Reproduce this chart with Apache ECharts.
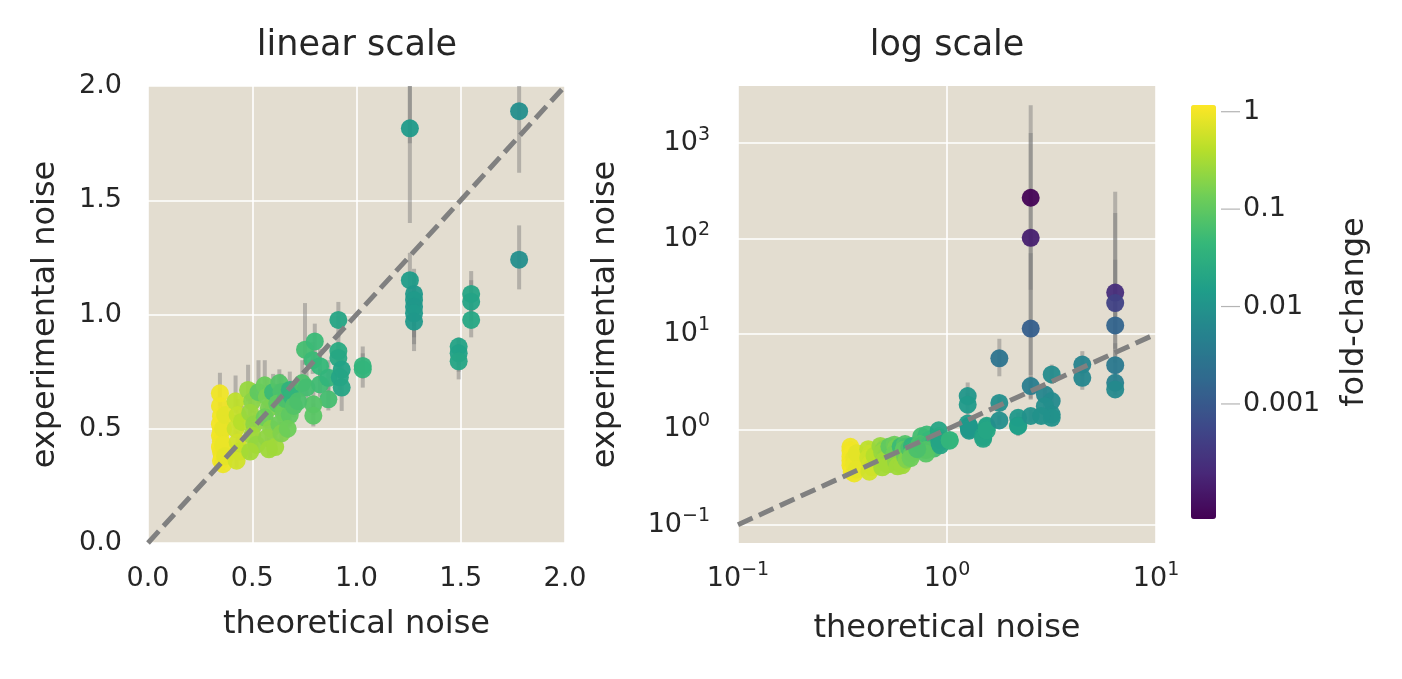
<!DOCTYPE html>
<html><head><meta charset="utf-8">
<script src="https://cdn.jsdelivr.net/npm/echarts@6/dist/echarts.min.js"></script>
<style>html,body{margin:0;padding:0;background:#fff}#c{width:1402px;height:679px}</style>
</head><body><div id="c"></div>
<script>
// ---- data ----
const theoNoise = [
 0.345,0.345,0.35,0.345,0.35,0.345,0.35,0.345,0.35,0.355,0.35,0.36,0.36,0.36,0.37,0.37,
 0.42,0.43,0.42,0.43,0.44,0.425,0.45,
 0.48,0.50,0.49,0.51,0.50,0.52,0.49,0.53,
 0.56,0.57,0.58,0.56,0.59,0.57,0.58,0.60,0.61,
 0.63,0.64,0.62,0.65,0.63,0.64,0.66,
 0.68,0.69,0.68,0.70,0.67,
 0.753,0.80,0.79,0.825,0.74,0.76,0.825,0.865,0.865,0.793,0.793,0.72,
 0.913,0.913,0.913,0.929,0.92,0.929,
 1.03,1.03,
 1.256,1.256,1.256,1.276,1.276,1.276,1.276,1.276,
 1.49,1.49,1.49,
 1.55,1.55,1.55,
 1.78,1.78,1.78,
 2.19,2.19,2.19,
 2.515,2.515,2.515,2.515,2.515,
 3.17,2.94,3.17,2.94,3.17,3.17,2.82,
 4.44,4.44,
 6.38,6.38,6.38,6.38,6.38,6.38
];
const expNoise = [
 0.655,0.60,0.555,0.52,0.49,0.47,0.445,0.42,0.40,0.38,0.36,0.345,0.50,0.43,0.56,0.38,
 0.62,0.56,0.50,0.44,0.40,0.36,0.53,
 0.67,0.62,0.57,0.52,0.47,0.43,0.40,0.66,
 0.69,0.64,0.59,0.55,0.50,0.46,0.41,0.66,0.42,
 0.70,0.66,0.61,0.57,0.52,0.48,0.63,
 0.67,0.64,0.56,0.60,0.50,
 0.846,0.882,0.80,0.774,0.70,0.68,0.694,0.723,0.629,0.607,0.557,0.62,
 0.976,0.84,0.81,0.759,0.725,0.68,
 0.775,0.76,
 2.23,1.815,1.15,1.09,1.063,1.034,1.005,0.969,
 0.86,0.83,0.795,
 1.09,1.056,0.976,
 1.89,1.24,5.55,
 1.10,1.32,1.08,
 268,102,11.4,2.84,1.38,
 3.76,2.32,1.98,1.75,1.43,1.32,1.38,
 4.78,3.47,
 27.2,21.1,12.3,4.7,3.08,2.62
];
const errLow = [
 0.60,0.55,0.51,0.48,0.45,0.43,0.41,0.39,0.37,0.35,0.33,0.32,0.46,0.40,0.52,0.35,
 0.57,0.52,0.46,0.40,0.37,0.33,0.49,
 0.62,0.57,0.52,0.48,0.43,0.39,0.37,0.61,
 0.63,0.59,0.54,0.51,0.46,0.42,0.38,0.61,0.39,
 0.64,0.60,0.56,0.52,0.48,0.44,0.58,
 0.61,0.59,0.51,0.55,0.46,
 0.78,0.80,0.74,0.71,0.64,0.62,0.64,0.66,0.58,0.56,0.51,0.57,
 0.90,0.78,0.75,0.70,0.67,0.578,
 0.72,0.68,
 1.75,1.40,1.0,0.95,0.93,0.90,0.87,0.84,
 0.78,0.75,0.716,
 1.00,0.97,0.90,
 1.62,1.11,3.6,
 0.85,1.15,0.90,
 29,3.7,2.1,2.05,1.2,
 3.0,1.9,1.6,1.45,1.2,1.1,1.15,
 3.6,2.6,
 10,7,5,3.5,2.6,2.3
];
const errHigh = [
 0.745,0.68,0.62,0.58,0.55,0.52,0.50,0.47,0.44,0.42,0.40,0.38,0.56,0.48,0.62,0.42,
 0.733,0.63,0.56,0.49,0.45,0.40,0.60,
 0.78,0.70,0.64,0.58,0.53,0.48,0.45,0.80,
 0.80,0.72,0.66,0.62,0.56,0.52,0.46,0.74,0.47,
 0.76,0.74,0.68,0.64,0.58,0.53,0.70,
 0.75,0.71,0.62,0.67,0.56,
 1.05,0.96,0.88,0.85,0.80,0.76,0.76,0.80,0.70,0.67,0.61,0.69,
 1.055,0.92,0.88,0.82,0.79,0.75,
 0.86,0.83,
 3.1,2.4,1.27,1.20,1.18,1.15,1.10,1.08,
 0.90,0.89,0.87,
 1.19,1.15,1.06,
 2.2,1.39,8.9,
 1.25,1.5,1.22,
 2495,1280,70,3.6,1.6,
 4.77,2.8,2.5,2.1,1.7,1.55,1.65,
 6.6,4.6,
 310,185,60,8,3.6,3.0
];
const foldChange = [
 0.95,0.97,0.98,0.99,1.0,0.98,0.96,1.0,0.97,0.93,0.99,0.9,0.85,0.88,0.8,0.82,
 0.45,0.5,0.55,0.6,0.5,0.6,0.4,
 0.25,0.2,0.25,0.22,0.28,0.24,0.3,0.1,
 0.12,0.15,0.16,0.13,0.2,0.22,0.28,0.05,0.28,
 0.08,0.07,0.1,0.12,0.13,0.18,0.07,
 0.035,0.04,0.1,0.08,0.13,
 0.06,0.05,0.05,0.045,0.07,0.06,0.055,0.04,0.06,0.08,0.09,0.07,
 0.02,0.025,0.022,0.018,0.02,0.02,
 0.04,0.04,
 0.011,0.013,0.014,0.012,0.013,0.012,0.013,0.012,
 0.018,0.017,0.02,
 0.02,0.019,0.021,
 0.008,0.008,0.0027,
 0.05,0.012,0.015,
 0.00007,0.00015,0.0012,0.004,0.009,
 0.0072,0.006,0.007,0.008,0.008,0.009,0.009,
 0.0054,0.006,
 0.00023,0.00045,0.0015,0.0033,0.0047,0.0068
];
const linTicks = [0, 0.5, 1.0, 1.5, 2.0];
const logYTicks = [0.1, 1, 10, 100, 1000];
const cbTickLabels = ['0.001', '0.01', '0.1', '1'];
const cbRange = [6.59e-5, 1.172];
const viridis = ['#440154','#482878','#3e4989','#31688e','#26828e','#1f9e89','#35b779','#6ece58','#b5de2b','#fde725'];

// ---- build ----
const FONT = 'DejaVu Sans';
const TXT = '#262626';
const pts = theoNoise.map((x,i)=>[x, expNoise[i], Math.log10(foldChange[i])]);
const bars = theoNoise.map((x,i)=>[x, errLow[i], errHigh[i]]);
const cbLogMin = Math.log10(cbRange[0]), cbLogMax = Math.log10(cbRange[1]);
const cbTickPos = cbTickLabels.map(s=>Math.log10(parseFloat(s)));

function supFmt(v){
  const e = Math.round(Math.log10(v));
  const s = (e<0 ? '\u2212' : '') + Math.abs(e);
  return '{b|10}{s|' + s + '}';
}
const supRich = {
  b:{fontSize:27, fontFamily:FONT, color:TXT, lineHeight:36},
  s:{fontSize:19, fontFamily:FONT, color:TXT, lineHeight:20, verticalAlign:'top'}
};

function errItem(params, api){
  const x = api.value(0);
  const p1 = api.coord([x, api.value(1)]);
  const p2 = api.coord([x, api.value(2)]);
  return {type:'line', shape:{x1:p1[0], y1:p1[1], x2:p2[0], y2:p2[1]},
    style:{stroke:'rgba(120,120,120,0.45)', lineWidth:4, lineCap:'butt'}};
}
function cbTickItem(params, api){
  const p = api.coord([api.value(0), api.value(1)]);
  return {type:'line', shape:{x1:p[0]+5, y1:p[1], x2:p[0]+24, y2:p[1]},
    style:{stroke:'#b4b4b4', lineWidth:1.2}};
}

const gridStyle = {show:true, backgroundColor:'#e3ddd0', borderWidth:0};
const splitL = {show:true, lineStyle:{color:'#ffffff', width:1.6}};
const lbl = {fontSize:27, fontFamily:FONT, color:TXT};
const nameStyle = {fontSize:32, fontFamily:FONT, color:TXT};
const dash = {color:'#808080', width:5, type:[16,7]};

const option = {
  animation:false,
  backgroundColor:'#ffffff',
  textStyle:{fontFamily:FONT},
  graphic:[
    {type:'text', x:357, y:46, style:{text:'linear scale', fontSize:35, fontFamily:FONT, fill:TXT, textAlign:'center', textVerticalAlign:'middle'}},
    {type:'text', x:947, y:46, style:{text:'log scale', fontSize:35, fontFamily:FONT, fill:TXT, textAlign:'center', textVerticalAlign:'middle'}}
  ],
  grid:[
    Object.assign({left:148, top:86, width:417, height:457}, gridStyle),
    Object.assign({left:738, top:86, width:418, height:457}, gridStyle),
    {left:1191, top:105, width:25, height:414, show:false}
  ],
  xAxis:[
    {type:'value', gridIndex:0, min:linTicks[0], max:linTicks[linTicks.length-1], interval:0.5,
     axisLine:{show:false}, axisTick:{show:false}, splitLine:splitL,
     axisLabel:Object.assign({margin:22, formatter:v=>v.toFixed(1)}, lbl),
     name:'theoretical noise', nameLocation:'middle', nameGap:66, nameTextStyle:nameStyle},
    {type:'log', gridIndex:1, min:0.1, max:10, logBase:10,
     axisLine:{show:false}, axisTick:{show:false}, splitLine:splitL,
     axisLabel:{margin:18, formatter:supFmt, rich:supRich},
     name:'theoretical noise', nameLocation:'middle', nameGap:70, nameTextStyle:nameStyle},
    {type:'value', gridIndex:2, min:0, max:1, show:false}
  ],
  yAxis:[
    {type:'value', gridIndex:0, min:linTicks[0], max:linTicks[linTicks.length-1], interval:0.5,
     axisLine:{show:false}, axisTick:{show:false}, splitLine:splitL,
     axisLabel:Object.assign({margin:26, formatter:v=>v.toFixed(1)}, lbl),
     name:'experimental noise', nameLocation:'middle', nameGap:86, nameRotate:90, nameTextStyle:nameStyle},
    {type:'log', gridIndex:1, min:0.0643, max:3980, logBase:10,
     axisLine:{show:false}, axisTick:{show:false, customValues:logYTicks}, splitLine:splitL,
     axisLabel:{margin:28, customValues:logYTicks, formatter:supFmt, rich:supRich},
     name:'experimental noise', nameLocation:'middle', nameGap:116, nameRotate:90, nameTextStyle:nameStyle},
    {type:'value', gridIndex:2, min:cbLogMin, max:cbLogMax, position:'right', offset:5,
     axisLine:{show:false}, splitLine:{show:false},
     axisTick:{show:false, customValues:cbTickPos},
     axisLabel:Object.assign({margin:22, customValues:cbTickPos,
       formatter:v=>cbTickLabels[cbTickPos.findIndex(t=>Math.abs(t-v)<1e-6)] || ''}, lbl),
     name:'fold-change', nameLocation:'middle', nameGap:118, nameRotate:90, nameTextStyle:nameStyle}
  ],
  visualMap:{
    type:'continuous', min:cbLogMin, max:cbLogMax, dimension:2,
    seriesIndex:[1,4], orient:'vertical', left:1191, top:105, itemWidth:25, itemHeight:414,
    calculable:false, hoverLink:false, padding:0, text:null, showLabel:false,
    inRange:{color:viridis}
  },
  series:[
    {type:'custom', xAxisIndex:0, yAxisIndex:0, data:bars, renderItem:errItem, clip:true, z:1, silent:true},
    {type:'scatter', xAxisIndex:0, yAxisIndex:0, data:pts, symbolSize:18, itemStyle:{opacity:0.95}, z:2, silent:true},
    {type:'line', xAxisIndex:0, yAxisIndex:0, data:[[0,0],[2,2]], symbol:'none', z:3, silent:true, lineStyle:dash},
    {type:'custom', xAxisIndex:1, yAxisIndex:1, data:bars, renderItem:errItem, clip:true, z:1, silent:true},
    {type:'scatter', xAxisIndex:1, yAxisIndex:1, data:pts, symbolSize:18, itemStyle:{opacity:0.95}, z:2, silent:true},
    {type:'line', xAxisIndex:1, yAxisIndex:1, data:[[0.1,0.1],[10,10]], symbol:'none', z:3, silent:true, lineStyle:dash},
    {type:'custom', xAxisIndex:2, yAxisIndex:2, data:cbTickPos.map(v=>[1, v]), renderItem:cbTickItem, clip:false, z:5, silent:true}
  ]
};
const chart = echarts.init(document.getElementById('c'), null, {renderer:'canvas'});
chart.setOption(option);
</script>
</body></html>
